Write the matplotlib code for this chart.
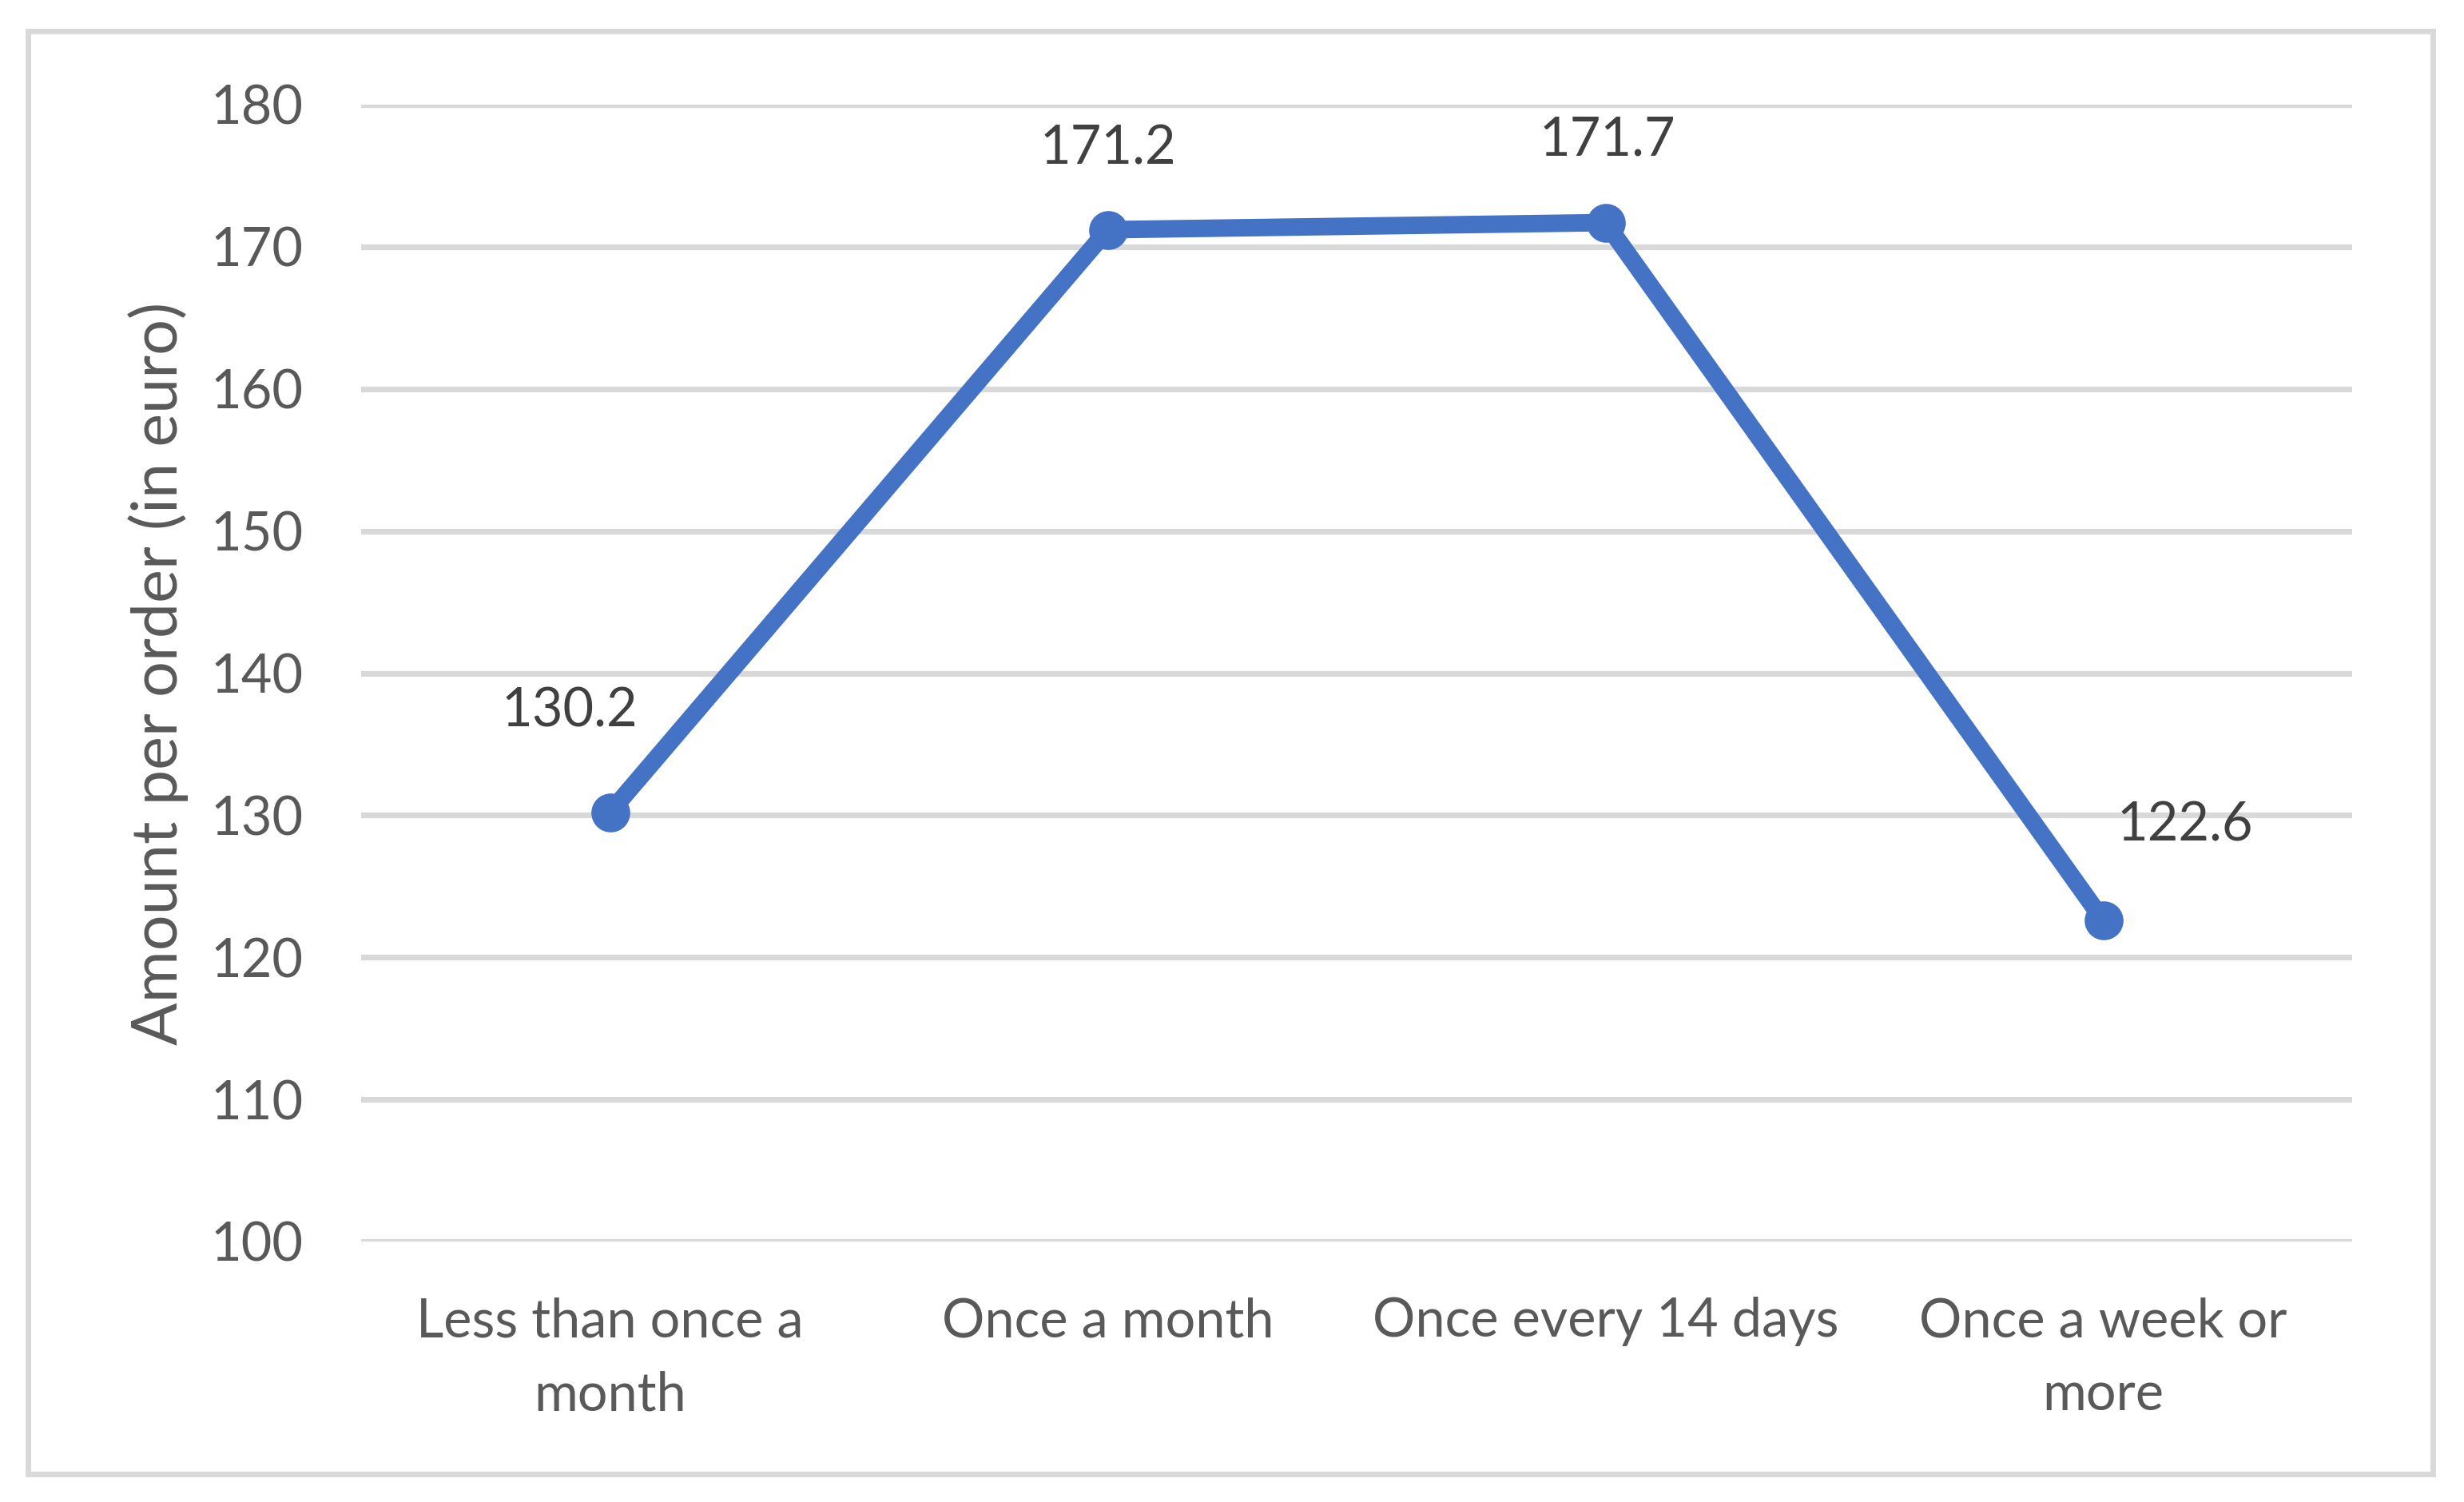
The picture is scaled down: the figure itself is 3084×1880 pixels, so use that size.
import matplotlib.pyplot as plt
from matplotlib.patches import Rectangle

categories = ["Less than once a\nmonth", "Once a month", "Once every 14 days", "Once a week or\nmore"]
amounts = [130.2, 171.2, 171.7, 122.6]
# label offsets (pixels) relative to each point
label_dx = [-51, 0, 2, 102]
label_dy = [126, 101, 103, 119]

plt.rcParams['font.family'] = ['Lato', 'DejaVu Sans']

W, H, DPI = 3084, 1880, 200
fig = plt.figure(figsize=(W / DPI, H / DPI), dpi=DPI)
ax = fig.add_axes([452 / W, 1 - 1554 / H, (2944 - 452) / W, (1554 - 131) / H])

x = list(range(len(categories)))
ax.plot(x, amounts, color='#4472C4', lw=7.9, marker='o', ms=16.5,
        solid_joinstyle='round', solid_capstyle='round', zorder=3)

for i, v in enumerate(amounts):
    ax.annotate(f"{v:.1f}", (i, v), xytext=(label_dx[i], label_dy[i]),
                textcoords='offset pixels', ha='center', va='center',
                fontsize=24, color='#404040')

ax.set_xlim(-0.5, 3.5)
ax.set_ylim(100, 180)
ax.set_yticks(range(100, 181, 10))
ax.set_xticks(x)
ax.set_xticklabels(categories, linespacing=1.6)
ax.grid(axis='y', color='#D9D9D9', lw=2.6)
ax.set_axisbelow(True)
for s in ax.spines.values():
    s.set_visible(False)
ax.tick_params(axis='both', length=0, labelsize=24, labelcolor='#595959')
ax.tick_params(axis='y', pad=26)
ax.tick_params(axis='x', pad=25)
ax.set_ylabel("Amount per order (in euro)", fontsize=28.5, color='#595959', labelpad=10)

# outer chart border
fig.patches.append(Rectangle((35 / W, 1 - 1845 / H), (3045 - 35) / W, (1845 - 39) / H,
                             transform=fig.transFigure, fill=False,
                             edgecolor='#D9D9D9', lw=2.5))

fig.savefig("out.png", dpi=DPI, facecolor='white')
